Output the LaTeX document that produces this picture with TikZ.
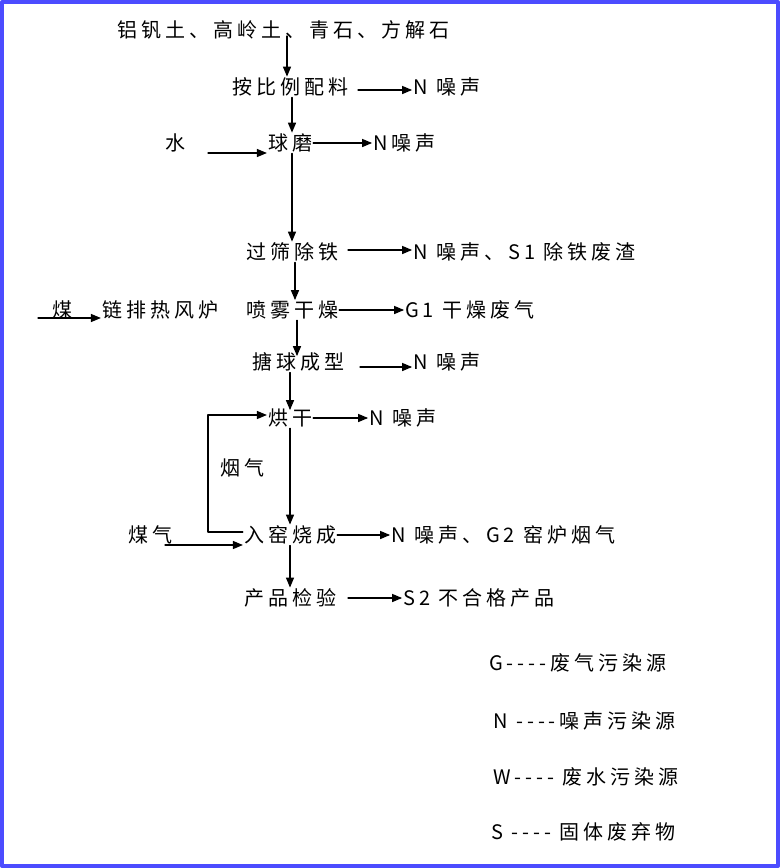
\documentclass[tikz,border=0pt]{standalone}
\usepackage{fontspec}
\setmainfont{Liberation Serif}
\newfontfamily\cjk[LetterSpace=20]{Noto Sans CJK SC}
\usetikzlibrary{arrows}

\begin{document}
\begin{tikzpicture}[x=1pt,y=-1pt,line cap=round,line join=round,>=triangle 45,
  lbl/.style={inner sep=1pt,font=\cjk\fontsize{20}{22}\selectfont},
  rlbl/.style={lbl,anchor=west},
  flow/.style={->,line width=1.3pt,black}]
        \useasboundingbox (0,0) rectangle (780,868);
        \draw[line width=4pt,blue!70!white] (2,2) rectangle (778,866);
        % main column
        \node[lbl] (raw) at (283,30) {铝钒土、高岭土、青石、方解石};
        \node[lbl] (mix) at (290,87) {按比例配料};
        \node[lbl] (mill) at (290,143) {球磨};
        \node[lbl] (sieve) at (292,252) {过筛除铁};
        \node[lbl] (spray) at (292,310) {喷雾干燥};
        \node[lbl] (form) at (298,362) {搪球成型};
        \node[lbl] (bake) at (290,418) {烘干};
        \node[lbl] (kiln) at (290,535) {入窑烧成};
        \node[lbl] (check) at (290,598) {产品检验};
        % inputs
        \node[lbl] (water) at (175,143) {水};
        \node[lbl] (coal) at (62,310) {煤};
        \node[lbl] (stove) at (160,310) {链排热风炉};
        \node[lbl] (gas) at (150,535) {煤气};
        \node[lbl] (smoke) at (242,468) {烟气};
        % outputs
        \node[rlbl] (o1) at (412,87) {N 噪声};
        \node[rlbl] (o2) at (372,143) {N噪声};
        \node[rlbl] (o3) at (412,252) {N 噪声、S1 除铁废渣};
        \node[rlbl] (o4) at (404,310) {G1 干燥废气};
        \node[rlbl] (o5) at (412,362) {N 噪声};
        \node[rlbl] (o6) at (368,418) {N 噪声};
        \node[rlbl] (o7) at (390,535) {N 噪声、G2 窑炉烟气};
        \node[rlbl] (o8) at (402,598) {S2 不合格产品};
        % legend
        \node[rlbl] (lg) at (488,663) {G----废气污染源};
        \node[rlbl] (ln) at (492,721) {N ----噪声污染源};
        \node[rlbl] (lw) at (492,777) {W---- 废水污染源};
        \node[rlbl] (ls) at (490,832) {S ---- 固体废弃物};
        % vertical flow
        \draw[flow] (287,36) -- (mix.north -| 287,0);
        \draw[flow] (mix.south -| 292,0) -- (mill.north -| 292,0);
        \draw[flow] (mill.south -| 292,0) -- (sieve.north -| 292,0);
        \draw[flow] (sieve.south -| 295,0) -- (295,300);
        \draw[flow] (spray.south -| 297,0) -- (297,356);
        \draw[flow] (form.south -| 290,0) -- (290,410);
        \draw[flow] (bake.south -| 290,0) -- (kiln.north -| 290,0);
        \draw[flow] (kiln.south -| 290,0) -- (check.north -| 290,0);
        % side flows
        \draw[flow] (358,90) -- (o1.west |- 0,90);
        \draw[flow] (208,153) -- (mill.west |- 0,153);
        \draw[flow] (mill.east) -- (o2.west);
        \draw[flow] (348,250) -- (o3.west |- 0,250);
        \draw[flow] (38,318) -- (stove.west |- 0,318);
        \draw[flow] (spray.east) -- (o4.west);
        \draw[flow] (360,367) -- (o5.west |- 0,367);
        \draw[flow] (bake.east) -- (o6.west);
        \draw[flow] (kiln.east) -- (o7.west);
        \draw[flow] (348,598) -- (o8.west);
        \draw[flow] (165,545) -- (kiln.west |- 0,545);
        \draw[flow] (kiln.west |- 0,532) -- (208,532) -- (208,415) -- (bake.west |- 0,415);
        
        \end{tikzpicture}
\end{document}
